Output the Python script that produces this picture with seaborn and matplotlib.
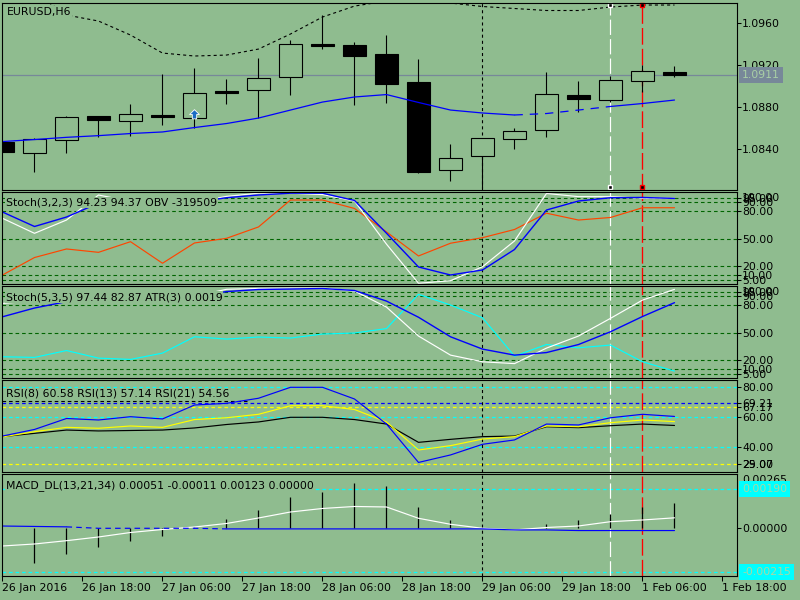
import matplotlib
matplotlib.use("Agg")
import numpy as np
import matplotlib.pyplot as plt
import matplotlib.transforms as mtransforms
import seaborn as sns

# ---------------- data ----------------
bars = list(range(22))
time_labels = ["26 Jan 2016", "26 Jan 18:00", "27 Jan 06:00", "27 Jan 18:00",
               "28 Jan 06:00", "28 Jan 18:00", "29 Jan 06:00", "29 Jan 18:00",
               "1 Feb 06:00", "1 Feb 18:00"]

price_open = [1.08474, 1.08369, 1.08487, 1.08715, 1.08667, 1.08724, 1.08696, 1.08958,
              1.08961, 1.09085, 1.09404, 1.09391, 1.09306, 1.09040, 1.08202, 1.08335,
              1.08496, 1.08582, 1.08914, 1.08866, 1.09047, 1.09135]
price_high = [1.08474, 1.08512, 1.08715, 1.08715, 1.08831, 1.09116, 1.09170, 1.09069,
              1.09268, 1.09439, 1.09676, 1.09420, 1.09486, 1.09258, 1.08452, 1.08506,
              1.08604, 1.09135, 1.09050, 1.09097, 1.09201, 1.09192]
price_low = [1.08379, 1.08189, 1.08369, 1.08521, 1.08530, 1.08635, 1.08601, 1.08834,
             1.08696, 1.08920, 1.09356, 1.08825, 1.08844, 1.08179, 1.08103, 1.08037,
             1.08407, 1.08521, 1.08753, 1.08853, 1.08942, 1.09090]
price_close = [1.08379, 1.08496, 1.08705, 1.08682, 1.08734, 1.08705, 1.08933, 1.08939,
               1.09075, 1.09398, 1.09385, 1.09290, 1.09024, 1.08189, 1.08316, 1.08506,
               1.08572, 1.08923, 1.08876, 1.09056, 1.09145, 1.09110]
upper_band = [1.10030, 1.09890, 1.09676, 1.09619, 1.09486, 1.09315, 1.09287, 1.09296,
              1.09353, 1.09496, 1.09657, 1.09761, 1.09809, 1.09804, 1.09790, 1.09757,
              1.09738, 1.09719, 1.09719, 1.09752, 1.09771, 1.09771]
moving_avg = [1.08475, 1.08494, 1.08515, 1.08531, 1.08551, 1.08566, 1.08608, 1.08646,
              1.08698, 1.08774, 1.08850, 1.08898, 1.08921, 1.08846, 1.08774, 1.08746,
              1.08727, 1.08741, 1.08774, 1.08808, 1.08836, 1.08869]
last_price = 1.0911
arrow_bar = 6
arrow_price = 1.08734

stoch1_k = [79.3, 63.4, 73.8, 89, 88, 86, 90, 95, 98, 100, 100, 92, 56, 18.9, 10.1, 15.6,
            38.1, 81.5, 91.4, 95.0, 95.3, 94.23]
stoch1_d = [72.4, 55.9, 70.5, 98, 91, 88, 90, 96.5, 100, 100, 98.5, 91.4, 44, 1, 3.8, 19.2,
            47.5, 99.7, 96.2, 96.2, 94.5, 94.37]
obv_scaled = [10.1, 29.3, 38.7, 35, 46.7, 23, 45.3, 50.4, 62.9, 92.5, 92.5, 83.2, 57.4, 31,
              45, 51.1, 60.1, 78, 70.5, 73.3, 84, 84]
stoch_levels = [5, 10, 20, 50, 80, 90, 95]

stoch2_main = [82, 85, 86, 87, 88, 89, 90, 97.5, 98.5, 99, 99, 95.6, 78, 46.3, 25.4, 18.1,
               16.1, 33.1, 46.3, 65.7, 85.7, 97.44]
stoch2_signal = [67.4, 77, 84, 86, 87, 88, 90, 95, 97.3, 97.8, 98.4, 96.2, 84.6, 66.9, 45.5,
                 32, 25.4, 28.2, 37, 51, 67.7, 82.87]
atr_scaled = [23.6, 22.9, 30.4, 22.1, 20.7, 27.6, 45.5, 43, 45.2, 44.1, 48.5, 49.6, 54.5,
              92, 80.3, 66.3, 24.3, 37, 33.4, 36.4, 18.1, 7.9]

rsi8 = [47.5, 51.9, 59.2, 58.2, 60.4, 58.9, 68.2, 69.3, 72.7, 80, 80, 72.2, 55.5, 29.9, 34.9,
        42, 44.9, 55.5, 54.9, 59.7, 62, 60.58]
rsi13 = [46.9, 50.4, 53.3, 52.7, 54.2, 53.3, 58.5, 59.7, 62, 67.7, 67.7, 65.2, 56.9, 38.2,
         41.1, 45.5, 47.1, 54.2, 53.7, 56.4, 58.2, 57.14]
rsi21 = [47.1, 49.3, 51.5, 50.9, 51.2, 51.5, 52.9, 55.2, 56.9, 60, 60, 58.5, 55.5, 43.3, 45.3,
         47.1, 47.5, 53.7, 53.1, 54.4, 55.5, 54.56]
rsi_cyan_levels = [40, 60, 80]
rsi_blue_level = 69.21
rsi_yellow_levels = [67.17, 29.07]
rsi_black_level = 70.67

macd_hist = [0.0, -0.001676, -0.001252, -0.000896, -0.000604, -0.00036, 0.00008,
             0.000453, 0.000892, 0.00151, 0.001768, 0.002207, 0.002061, 0.001038, 0.000404,
             0.0, 0.0, 0.00021, 0.000404, 0.000711, 0.001038, 0.00123]
macd_white = [-0.000862, -0.000765, -0.000604, -0.000424, -0.000205, -0.000058, 0.000063,
              0.000234, 0.000502, 0.000794, 0.000965, 0.001062, 0.001038, 0.000487, 0.000195,
              0.0, -0.00008, 0.000039, 0.000112, 0.000322, 0.000404, 0.00051]
macd_blue = [0.00011, 0.00009, 0.00007, 0.0, 0.0, 0.0, 0.0, -0.00003, -0.00003, -0.00003,
             -0.00003, -0.00003, -0.00003, -0.00003, -0.00003, -0.00003, -0.00008, -0.00008,
             -0.00011, -0.00011, -0.00011, -0.00011]
macd_levels = [0.0019, -0.00215]

vline_dotted_bar = 15
vline_white_bar = 19
vline_red_bar = 20

# ---------------- style ----------------
BG = '#8FBC8F'
GRID = '#006400'
FS = 7.8
sns.set_style('ticks')
plt.rcParams.update({
    'figure.facecolor': BG, 'axes.facecolor': BG, 'savefig.facecolor': BG,
    'axes.edgecolor': 'black', 'lines.scale_dashes': False,
    'xtick.color': 'black', 'ytick.color': 'black',
})
plt.rcParams['font.family'] = ['DejaVu Sans']

W, H = 800, 600
LEFT_PX, RIGHT_PX = 2, 737
PX0, PXSTEP = 2.5, 32.0
XL = (LEFT_PX - PX0) / PXSTEP
XR = (RIGHT_PX - PX0) / PXSTEP

fig = plt.figure(figsize=(8, 6), dpi=100)

DASH = (0, (2.6, 2.1))


def panel(top, bottom, ylim):
    ax = fig.add_axes([LEFT_PX / W, 1 - bottom / H, (RIGHT_PX - LEFT_PX) / W, (bottom - top) / H])
    ax.set_facecolor(BG)
    for s in ax.spines.values():
        s.set_linewidth(0.8)
        s.set_color('black')
        s.set_zorder(20)
    ax.set_xlim(XL, XR)
    ax.set_ylim(*ylim)
    ax.yaxis.tick_right()
    ax.tick_params(axis='y', which='both', direction='out', length=2.9, width=0.75, pad=0.8,
                   labelsize=FS, left=False, right=True, labelleft=False, labelright=True)
    ax.tick_params(axis='x', bottom=False, labelbottom=False, top=False)
    ax.set_xlabel('')
    ax.set_ylabel('')
    return ax


def line(ax, x, y, color, lw=0.85, ls='-', z=5):
    sns.lineplot(x=x, y=y, ax=ax, color=color, linewidth=lw, linestyle=ls, zorder=z,
                 legend=False, sort=False)


def label(ax, text, xpx, yfrac):
    ax.text((xpx - LEFT_PX) / (RIGHT_PX - LEFT_PX), yfrac, text, transform=ax.transAxes,
            ha='left', va='center', fontsize=FS, color='black', zorder=12,
            bbox=dict(boxstyle='square,pad=0.05', facecolor=BG, edgecolor='none'))


def side_text(ax, y, text, **kw):
    tr = mtransforms.blended_transform_factory(ax.transAxes, ax.transData)
    ax.text((742 - LEFT_PX) / (RIGHT_PX - LEFT_PX), y, text, transform=tr, ha='left',
            va='center', fontsize=FS, clip_on=False, zorder=25, **kw)


def vlines_all(ax, z=4):
    ax.axvline(vline_dotted_bar, color='black', lw=0.8, ls=(0, (2.2, 2.2)), zorder=z)
    ax.axvline(vline_white_bar, color='white', lw=0.85, ls=(0, (11, 3)), zorder=z)
    ax.axvline(vline_red_bar, color='red', lw=0.95, ls=(0, (12, 3)), zorder=z)


# ---------------- main price panel ----------------
ax0 = panel(2.5, 190, (1.08015, 1.09795))
vlines_all(ax0, z=1)
ax0.axhline(last_price, color='#778899', lw=0.9, zorder=1.5)

o = np.array(price_open); c = np.array(price_close)
hi = np.array(price_high); lo = np.array(price_low)
xb = np.array(bars)
ax0.vlines(xb, lo, hi, color='black', lw=0.8, zorder=2)
bull = c >= o
ax0.bar(xb[bull], (c - o)[bull], bottom=o[bull], width=0.69, facecolor=BG,
        edgecolor='black', linewidth=0.8, zorder=3)
ax0.bar(xb[~bull], (o - c)[~bull], bottom=c[~bull], width=0.69, facecolor='black',
        edgecolor='black', linewidth=0.8, zorder=3)

line(ax0, bars, upper_band, 'black', lw=0.8, ls=(0, (2.2, 2.2)))
line(ax0, bars[:17], moving_avg[:17], '#0000FF', lw=0.9)
line(ax0, bars[16:20], moving_avg[16:20], '#0000FF', lw=0.9, ls=(0, (6, 5)))
line(ax0, bars[19:], moving_avg[19:], '#0000FF', lw=0.9)

arrow = [(0, 1), (1, 0), (0.45, 0), (0.45, -0.9), (-0.45, -0.9), (-0.45, 0), (-1, 0), (0, 1)]
ax0.plot([arrow_bar], [arrow_price], marker=arrow, markersize=7, color='#1a6cc4',
         markeredgecolor='white', markeredgewidth=0.6, zorder=7, ls='none')

mtr = mtransforms.blended_transform_factory(ax0.transData, ax0.transAxes)
for bx, col in ((vline_white_bar, 'white'), (vline_red_bar, 'red')):
    ax0.plot([bx, bx], [0.985, 0.014], transform=mtr, ls='none', marker='s', markersize=3.2,
             markerfacecolor='black', markeredgecolor=col, markeredgewidth=1.0,
             clip_on=False, zorder=8)

ticks0 = [1.0840, 1.0880, 1.0920, 1.0960]
ax0.set_yticks(ticks0)
ax0.set_yticklabels([f"{v:.4f}" for v in ticks0])
side_text(ax0, last_price, f"{last_price:.4f}", color='#A9CFA5',
          bbox=dict(boxstyle='square,pad=0.28', facecolor='#778899', edgecolor='none'))
label(ax0, "EURUSD,H6", 7, 1 - (12 - 2.5) / 187.5)

# ---------------- Stoch(3,2,3) + OBV ----------------
ax1 = panel(192, 284, (0.2, 101.3))
for lv in stoch_levels:
    ax1.axhline(lv, color=GRID, lw=0.8, ls=DASH, zorder=2)
vlines_all(ax1)
line(ax1, bars, obv_scaled, '#FF4500')
line(ax1, bars, stoch1_d, 'white')
line(ax1, bars, stoch1_k, '#0000FF', lw=1.0)
ax1.set_yticks(stoch_levels)
ax1.set_yticklabels([f"{v:.2f}" for v in stoch_levels])
side_text(ax1, 95, "100.00", color='black')
label(ax1, "Stoch(3,2,3) 94.23 94.37 OBV -319509", 6, 1 - (202.5 - 192) / 92)

# ---------------- Stoch(5,3,5) + ATR ----------------
ax2 = panel(286.3, 378.3, (0.0, 100.8))
for lv in stoch_levels:
    ax2.axhline(lv, color=GRID, lw=0.8, ls=DASH, zorder=2)
vlines_all(ax2)
line(ax2, bars, atr_scaled, '#00FFFF')
line(ax2, bars, stoch2_main, 'white')
line(ax2, bars, stoch2_signal, '#0000FF', lw=1.0)
ax2.set_yticks(stoch_levels)
ax2.set_yticklabels([f"{v:.2f}" for v in stoch_levels])
side_text(ax2, 95, "100.00", color='black')
label(ax2, "Stoch(5,3,5) 97.44 82.87 ATR(3) 0.0019", 6, 1 - (297 - 286.3) / 92)

# ---------------- RSI ----------------
ax3 = panel(380.3, 472.3, (23.33, 84.67))
for lv in rsi_cyan_levels:
    ax3.axhline(lv, color='#00FFFF', lw=0.9, ls=DASH, zorder=2)
ax3.axhline(rsi_blue_level, color='#0000FF', lw=0.9, ls=DASH, zorder=2)
for lv in rsi_yellow_levels:
    ax3.axhline(lv, color='#FFFF00', lw=0.9, ls=DASH, zorder=2)
ax3.axhline(rsi_black_level, xmin=0, xmax=0.333, color='black', lw=0.8, ls=DASH, zorder=2)
vlines_all(ax3)
line(ax3, bars, rsi21, 'black')
line(ax3, bars, rsi13, '#FFFF00')
line(ax3, bars, rsi8, '#0000FF')
rsi_ticks = [rsi_yellow_levels[1], 40, 60, rsi_yellow_levels[0], rsi_blue_level, 80]
ax3.set_yticks(rsi_ticks)
ax3.set_yticklabels([f"{v:.2f}" for v in rsi_ticks])
side_text(ax3, 27.9, "25.00", color='black')
label(ax3, "RSI(8) 60.58 RSI(13) 57.14 RSI(21) 54.56", 6, 1 - (393.3 - 380.3) / 92)

# ---------------- MACD ----------------
ax4 = panel(474.3, 576.3, (-0.002339, 0.00263))
for lv in macd_levels:
    ax4.axhline(lv, color='#00FFFF', lw=0.9, ls=DASH, zorder=2)
vlines_all(ax4)
ax4.vlines(bars, 0, macd_hist, color='black', lw=0.9, zorder=4.5)
line(ax4, bars, macd_white, 'white')
line(ax4, bars[:3], macd_blue[:3], '#0000FF')
line(ax4, bars[2:8], macd_blue[2:8], '#0000FF', ls=(0, (4, 3)))
line(ax4, bars[7:], macd_blue[7:], '#0000FF')
ax4.set_yticks([0.0])
ax4.set_yticklabels(["0.00000"])
side_text(ax4, 0.00237, "0.00265", color='black')
for lv in macd_levels:
    side_text(ax4, lv, f"{lv:.5f}", color='#A8D8A4',
              bbox=dict(boxstyle='square,pad=0.28', facecolor='#00FFFF', edgecolor='none'))
label(ax4, "MACD_DL(13,21,34) 0.00051 -0.00011 0.00123 0.00000", 6, 1 - (486 - 474.3) / 102)

tick_pos = [(LEFT_PX + 80 * k - PX0) / PXSTEP for k in range(len(time_labels))]
ax4.set_xticks(tick_pos)
ax4.set_xticklabels(time_labels, ha='left')
ax4.tick_params(axis='x', bottom=True, labelbottom=True, direction='out', length=3.6,
                width=0.75, pad=1.0, labelsize=FS)
ax4.set_xlim(XL, XR)

for ax in (ax0, ax1, ax2, ax3, ax4):
    ax.set_xlabel('')
    ax.set_ylabel('')

fig.savefig('out.png', dpi=100, facecolor=BG)
